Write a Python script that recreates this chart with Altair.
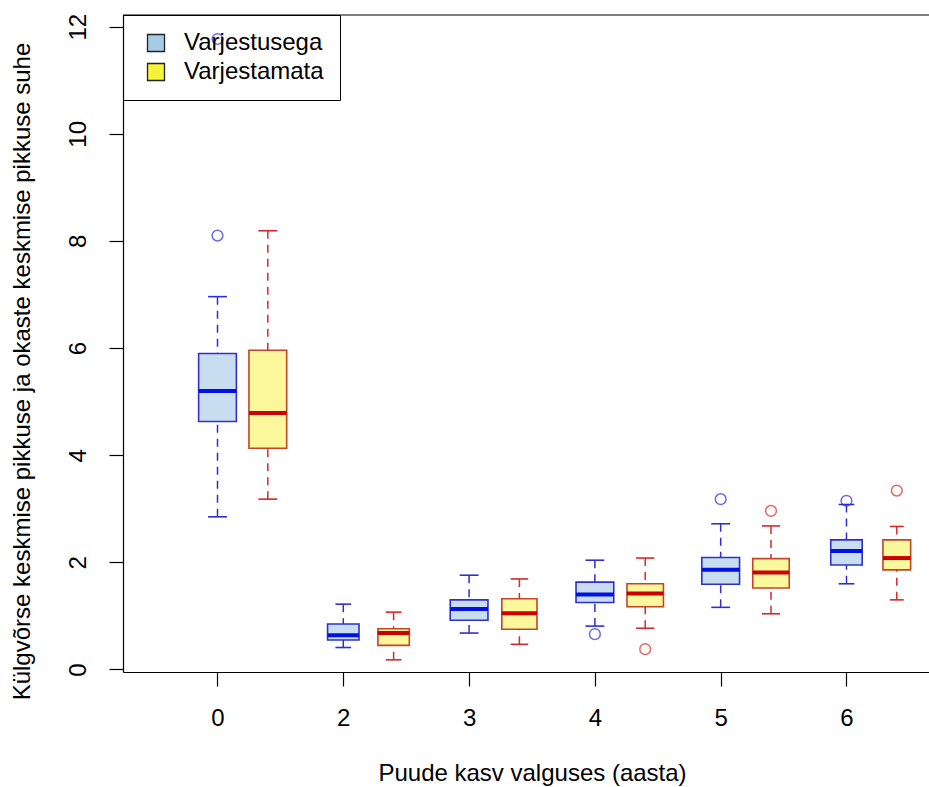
import json
import altair as alt
import pandas as pd

# Age groups (years of growth in the light) and the two treatments
groups = ["0", "2", "3", "4", "5", "6"]
series_names = ["Varjestusega", "Varjestamata"]

# Box statistics per age group: lower whisker, Q1, median, Q3, upper whisker
shaded_lo = [2.85, 0.41, 0.68, 0.81, 1.16, 1.60]
shaded_q1 = [4.63, 0.55, 0.92, 1.25, 1.59, 1.95]
shaded_med = [5.20, 0.64, 1.13, 1.40, 1.86, 2.21]
shaded_q3 = [5.90, 0.85, 1.30, 1.63, 2.09, 2.42]
shaded_hi = [6.96, 1.22, 1.76, 2.04, 2.72, 3.08]
shaded_out = [[8.10, 11.77], [], [], [0.66], [3.18], [3.15]]

open_lo = [3.18, 0.18, 0.47, 0.77, 1.04, 1.30]
open_q1 = [4.13, 0.45, 0.75, 1.17, 1.52, 1.86]
open_med = [4.79, 0.68, 1.05, 1.42, 1.81, 2.08]
open_q3 = [5.96, 0.76, 1.32, 1.60, 2.07, 2.42]
open_hi = [8.19, 1.07, 1.69, 2.08, 2.68, 2.67]
open_out = [[], [], [], [0.38], [2.96], [3.34]]

# Relative box widths (proportional to sqrt of group size)
shaded_width = [0.30, 0.25, 0.30, 0.30, 0.30, 0.25]
open_width = [0.30, 0.25, 0.28, 0.29, 0.29, 0.22]

OFFSET = 0.4  # second box of each pair sits to the right of the tick

box_rows, out_rows = [], []
for i, g in enumerate(groups):
    for name, shift, lo, q1, med, q3, hi, w, outs in (
        (series_names[0], 0.0, shaded_lo, shaded_q1, shaded_med, shaded_q3, shaded_hi, shaded_width, shaded_out),
        (series_names[1], OFFSET, open_lo, open_q1, open_med, open_q3, open_hi, open_width, open_out),
    ):
        pos = i + 1 + shift
        box_rows.append(dict(group=g, series=name, line=name, pos=pos, lo=lo[i], q1=q1[i],
                             med=med[i], q3=q3[i], hi=hi[i], xl=pos - w[i] / 2, xr=pos + w[i] / 2,
                             cl=pos - w[i] / 4, cr=pos + w[i] / 4))
        for v in outs[i]:
            out_rows.append(dict(group=g, line=name, pos=pos, value=v))

boxes = pd.DataFrame(box_rows)
outliers = pd.DataFrame(out_rows)

W, H = 806, 657
FONT = "Liberation Sans"

x_scale = alt.Scale(domain=[0.2488, 6.656], nice=False, zero=False)
y_scale = alt.Scale(domain=[-0.047, 12.218], nice=False, zero=False)

label_map = json.dumps(groups)
x_axis = alt.Axis(values=list(range(1, len(groups) + 1)),
                  labelExpr=f"{label_map}[datum.value - 1]",
                  title="Puude kasv valguses (aasta)",
                  tickSize=14, labelPadding=32, labelBaseline="middle",
                  titleX=409, titleY=101, titleBaseline="middle")
y_axis = alt.Axis(values=list(range(0, 13, 2)),
                  title="Külgvõrse keskmise pikkuse ja okaste keskmise pikkuse suhe",
                  tickSize=14, labelAngle=270, labelAlign="center",
                  labelBaseline="middle", labelPadding=31,
                  titleAngle=270, titleX=-101, titleY=356,
                  titleAlign="center", titleBaseline="middle")


def X(field):
    return alt.X(f"{field}:Q", scale=x_scale, axis=x_axis)


def Y(field):
    return alt.Y(f"{field}:Q", scale=y_scale, axis=y_axis)


box_fill_scale = alt.Scale(domain=series_names, range=["#c8ddef", "#fbf89c"])
key_fill_scale = alt.Scale(domain=series_names, range=["#a6cbe6", "#f5f23a"])
border_scale = alt.Scale(domain=series_names, range=["#2f2fd0", "#c4442a"])
line_scale = alt.Scale(domain=series_names, range=["#2f2fd0", "#d22b2b"])
median_scale = alt.Scale(domain=series_names, range=["#0010e6", "#cc0000"])

legend = alt.Legend(orient="none", legendX=0, legendY=0, title=None,
                    symbolType="square", symbolSize=289, symbolOpacity=1,
                    symbolStrokeColor="#222222", symbolStrokeWidth=1.3,
                    labelFont=FONT, labelFontSize=24, labelColor="black",
                    labelOffset=16, padding=16, symbolOffset=5, rowPadding=5,
                    strokeColor="black", labelLimit=400)

base = alt.Chart(boxes)

box_fill = base.mark_rect(strokeWidth=0).encode(
    x=X("xl"), x2="xr", y=Y("q1"), y2="q3",
    fill=alt.Fill("series:N", scale=box_fill_scale, legend=None),
)
box_border = base.mark_rect(fillOpacity=0, strokeWidth=1.6).encode(
    x=X("xl"), x2="xr", y=Y("q1"), y2="q3",
    stroke=alt.Stroke("line:N", scale=border_scale, legend=None),
)

# zero-size squares that only carry the legend keys
legend_keys = base.mark_square(size=0, filled=True, stroke="#222222", strokeWidth=1.3,
                               opacity=1).encode(
    x=X("pos"), y=Y("med"),
    fill=alt.Fill("series:N", scale=key_fill_scale, legend=legend),
)

whisker_up = base.mark_rule(strokeWidth=1.5, strokeDash=[8, 6]).encode(
    x=X("pos"), y=Y("hi"), y2="q3",
    stroke=alt.Stroke("line:N", scale=line_scale, legend=None),
)
whisker_down = base.mark_rule(strokeWidth=1.5, strokeDash=[8, 6]).encode(
    x=X("pos"), y=Y("lo"), y2="q1",
    stroke=alt.Stroke("line:N", scale=line_scale, legend=None),
)
cap_up = base.mark_rule(strokeWidth=1.6).encode(
    x=X("cl"), x2="cr", y=Y("hi"),
    stroke=alt.Stroke("line:N", scale=line_scale, legend=None),
)
cap_down = base.mark_rule(strokeWidth=1.6).encode(
    x=X("cl"), x2="cr", y=Y("lo"),
    stroke=alt.Stroke("line:N", scale=line_scale, legend=None),
)
median = base.mark_rule(strokeWidth=4).encode(
    x=X("xl"), x2="xr", y=Y("med"),
    color=alt.Color("line:N", scale=median_scale, legend=None),
)
points = alt.Chart(outliers).mark_point(shape="circle", filled=False, size=115,
                                        strokeWidth=1.5).encode(
    x=X("pos"), y=Y("value"),
    stroke=alt.Stroke("line:N", scale=line_scale, legend=None),
)

# top edge of the plot frame (left and bottom come from the axis lines)
top_edge = alt.Chart(pd.DataFrame({"edge": [0]})).mark_rule(
    color="black", strokeWidth=1.2
).encode(x=alt.value(0), x2=alt.value(W), y=alt.value(0))

chart = alt.layer(
    box_fill, box_border, legend_keys, whisker_up, whisker_down, cap_up, cap_down,
    median, points, top_edge
).resolve_scale(
    stroke="independent", fill="independent"
).properties(
    width=W, height=H,
    autosize=alt.AutoSizeParams(type="none"),
    padding={"left": 123, "top": 15, "right": 0, "bottom": 115},
).configure_view(stroke=None).configure_axis(
    grid=False, domainColor="black", tickColor="black", domainWidth=1.2, tickWidth=1.2,
    labelFont=FONT, labelFontSize=24, labelColor="black",
    titleFont=FONT, titleFontSize=24, titleFontWeight="normal", titleColor="black",
)

chart.save("out.html", embed_options={"renderer": "svg", "actions": False})
